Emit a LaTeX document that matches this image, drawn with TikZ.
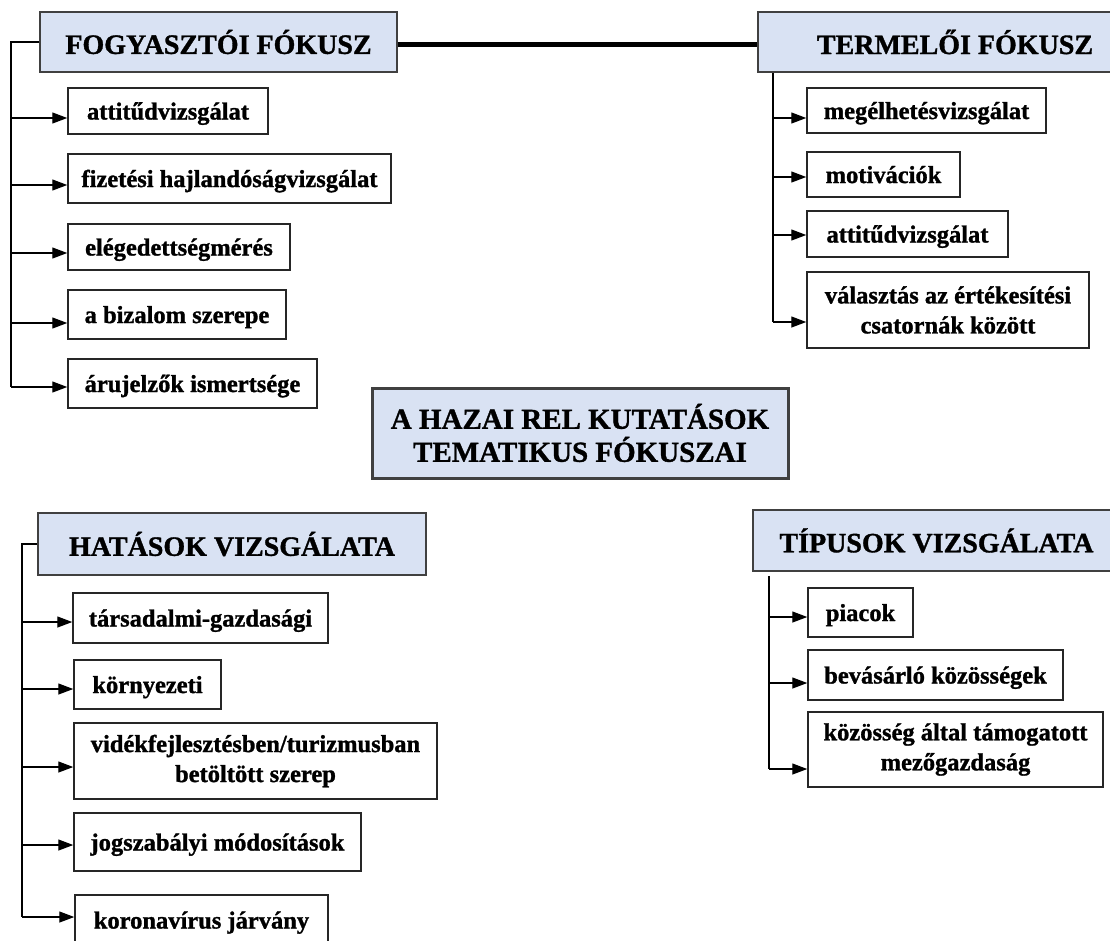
\documentclass[tikz,border=0pt]{standalone}
\usepackage{fontspec}
\setmainfont[BoldFeatures={FakeBold=1.2}]{Liberation Serif}
\usepackage{tikz}
\usetikzlibrary{arrows.meta}
\definecolor{fokuszblue}{RGB}{217,226,243}

\begin{document}
\begin{tikzpicture}[x=1pt,y=-1pt,
  head/.style={draw=black!75,fill=fokuszblue,line width=1.5pt,inner sep=0pt,align=center,font=\bfseries\fontsize{28}{33}\selectfont},
  item2/.style={draw=black!85,fill=white,line width=1.5pt,inner sep=0pt,align=center,font=\bfseries\fontsize{24.5}{30}\selectfont},
  item/.style={item2,text height=17pt,text depth=0pt},
  ag/.style={line width=1.3pt,-{Triangle[length=15pt,width=11pt]}}]

  \useasboundingbox (0,0) rectangle (1110,940);
  \clip (0,0) rectangle (1110,940);

  % fogyasztoi fokusz
  \node[head,minimum width=357,minimum height=60] (fog) at (218.5,42) {FOGYASZTÓI FÓKUSZ};
  \node[item,minimum width=200,minimum height=46] (f1) at (168,111) {attitűdvizsgálat};
  \node[item,minimum width=323,minimum height=49] (f2) at (229.5,178.5) {fizetési hajlandóságvizsgálat};
  \node[item,minimum width=222,minimum height=46] (f3) at (179,247) {elégedettségmérés};
  \node[item,minimum width=218,minimum height=49] (f4) at (177,314.5) {a bizalom szerepe};
  \node[item,minimum width=249,minimum height=49] (f5) at (192.5,383.5) {árujelzők ismertsége};
  \coordinate (fogspine) at (11,387);

  % termeloi fokusz
  \node[head,minimum width=394,minimum height=60] (ter) at (955,42) {TERMELŐI FÓKUSZ};
  \node[item,minimum width=239,minimum height=45] (t1) at (926.5,110.5) {megélhetésvizsgálat};
  \node[item,minimum width=153,minimum height=45] (t2) at (883.5,174.5) {motivációk};
  \node[item,minimum width=201,minimum height=46] (t3) at (907.5,234) {attitűdvizsgálat};
  \node[item2,minimum width=282,minimum height=76] (t4) at (948,310) {választás az értékesítési\\csatornák között};
  \coordinate (terspine) at (773,322);

  \node[head,line width=3pt,minimum width=416,minimum height=90,font=\bfseries\fontsize{29}{33}\selectfont] (main) at (580,433) {A HAZAI REL KUTATÁSOK\\TEMATIKUS FÓKUSZAI};

  % hatasok vizsgalata
  \node[head,minimum width=388,minimum height=62] (hat) at (232,544) {HATÁSOK VIZSGÁLATA};
  \node[item,minimum width=255,minimum height=50] (h1) at (200.5,618) {társadalmi-gazdasági};
  \node[item,minimum width=147,minimum height=49] (h2) at (147.5,684.5) {környezeti};
  \node[item2,minimum width=363,minimum height=76] (h3) at (255.5,761) {vidékfejlesztésben/turizmusban\\betöltött szerep};
  \node[item,minimum width=287,minimum height=58] (h4) at (217.5,842) {jogszabályi módosítások};
  \node[item,minimum width=253,minimum height=50] (h5) at (201.5,920) {koronavírus járvány};
  \coordinate (hatspine) at (22,917);

  % tipusok vizsgalata
  \node[head,minimum width=367,minimum height=61] (typ) at (936.5,540.5) {TÍPUSOK VIZSGÁLATA};
  \node[item,minimum width=105,minimum height=49] (p1) at (860.5,612.5) {piacok};
  \node[item,minimum width=255,minimum height=50] (p2) at (935.5,675) {bevásárló közösségek};
  \node[item2,minimum width=295,minimum height=75] (p3) at (955.5,749.5) {közösség által támogatott\\mezőgazdaság};
  \coordinate (typspine) at (769,769);

  \draw[line width=5pt] ([yshift=-2pt]fog.east) -- ([yshift=-2pt]ter.west);

  \draw[line width=1.3pt] (fog.west) -| (fogspine);
  \foreach \to/\dy in {f1/7,f2/6.5,f3/6,f4/8.5,f5/3.5}
    \draw[ag] ([yshift=-\dy pt]\to.west -| fogspine) -- ([yshift=-\dy pt]\to.west);

  \draw[line width=1.3pt] (terspine |- ter.south) -- (terspine);
  \foreach \to/\dy in {t1/7.5,t2/2.5,t3/1,t4/12}
    \draw[ag] ([yshift=-\dy pt]\to.west -| terspine) -- ([yshift=-\dy pt]\to.west);

  \draw[line width=1.3pt] (hat.west) -| (hatspine);
  \foreach \to/\dy in {h1/4,h2/4.5,h3/6,h4/3,h5/-3}
    \draw[ag] ([yshift=-\dy pt]\to.west -| hatspine) -- ([yshift=-\dy pt]\to.west);

  \draw[line width=1.3pt] ([yshift=-4pt]typspine |- typ.south) -- (typspine);
  \foreach \to/\dy in {p1/4.5,p2/8,p3/19.5}
    \draw[ag] ([yshift=-\dy pt]\to.west -| typspine) -- ([yshift=-\dy pt]\to.west);
\end{tikzpicture}
\end{document}
